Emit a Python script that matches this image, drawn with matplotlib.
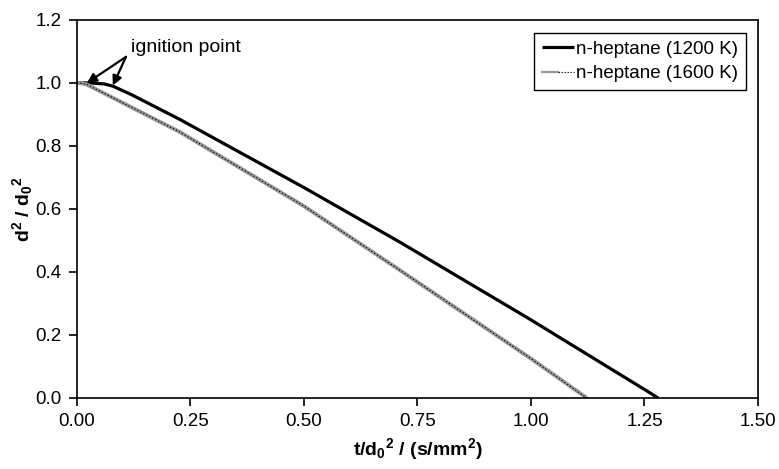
import matplotlib
matplotlib.use("Agg")
import matplotlib.pyplot as plt
from matplotlib.lines import Line2D
from matplotlib.legend_handler import HandlerTuple

plt.rcParams['font.family'] = ['Liberation Sans', 'DejaVu Sans']
plt.rcParams['mathtext.fontset'] = 'custom'
plt.rcParams['mathtext.rm'] = 'Liberation Sans'
plt.rcParams['mathtext.it'] = 'Liberation Sans:italic'
plt.rcParams['mathtext.bf'] = 'Liberation Sans:bold'

# 1200 K series
t_1200 = [0.0, 0.03, 0.06, 0.079, 0.12, 0.227, 0.50, 0.711, 1.00, 1.258, 1.28]
d_1200 = [1.0, 1.0, 0.997, 0.99, 0.963, 0.884, 0.668, 0.495, 0.248, 0.02, 0.0]
# 1600 K series
t_1600 = [0.0, 0.01, 0.022, 0.06, 0.227, 0.50, 0.711, 1.00, 1.123]
d_1600 = [1.0, 0.999, 0.995, 0.967, 0.844, 0.609, 0.406, 0.125, 0.0]

xticks = [0.00, 0.25, 0.50, 0.75, 1.00, 1.25, 1.50]
yticks = [0.0, 0.2, 0.4, 0.6, 0.8, 1.0, 1.2]

fig = plt.figure(figsize=(7.79, 4.69), dpi=100)
ax = fig.add_axes([0.0988, 0.1514, 0.8742, 0.806])

ln1, = ax.plot(t_1200, d_1200, color='black', lw=2.3, solid_capstyle='butt')
ax.plot(t_1600, d_1600, color='#9a9a9a', lw=2.8, solid_capstyle='butt')
ax.plot(t_1600, d_1600, color='black', lw=0.8, ls=(0, (1.2, 1.8)))

ax.set_xlim(0, 1.5)
ax.set_ylim(0, 1.2)
ax.set_xticks(xticks)
ax.set_xticklabels([f"{v:.2f}" for v in xticks])
ax.set_yticks(yticks)
ax.set_yticklabels([f"{v:.1f}" for v in yticks])
ax.tick_params(direction='out', length=6, width=1.2, labelsize=13.5, pad=5)
for s in ax.spines.values():
    s.set_linewidth(1.2)
    s.set_color('black')

ax.set_xlabel(r'$\mathbf{t/d_0{}^2\ /\ (s/mm^2)}$', fontsize=14, labelpad=4)
ax.set_ylabel(r'$\mathbf{d^2\ /\ d_0{}^2}$', fontsize=14, labelpad=0.5)

txt_xy = (0.108, 1.083)
ax.annotate('', xy=(0.022, 1.0), xytext=txt_xy,
            arrowprops=dict(arrowstyle='-|>', color='black', lw=1.6, mutation_scale=14, shrinkA=0, shrinkB=0))
ax.annotate('', xy=(0.079, 0.992), xytext=txt_xy,
            arrowprops=dict(arrowstyle='-|>', color='black', lw=1.6, mutation_scale=14, shrinkA=0, shrinkB=0))
ax.text(0.118, 1.114, 'ignition point', fontsize=14, ha='left', va='center')

h2a = Line2D([], [], color='#9a9a9a', lw=1.6)
h2b = Line2D([], [], color='black', lw=0.8, ls=(0, (1.2, 1.5)))
leg = ax.legend([ln1, (h2a, h2b)], ['n-heptane (1200 K)', 'n-heptane (1600 K)'],
                handler_map={tuple: HandlerTuple(ndivide=None, pad=0)},
                loc='upper right', bbox_to_anchor=(0.982, 0.9656), fontsize=13.5,
                frameon=True, fancybox=False, edgecolor='black', framealpha=1,
                handlelength=1.75, handletextpad=0.1, borderpad=0.4, labelspacing=0.4,
                borderaxespad=0)
leg.get_frame().set_linewidth(1.0)

fig.savefig('out.png', dpi=100)
